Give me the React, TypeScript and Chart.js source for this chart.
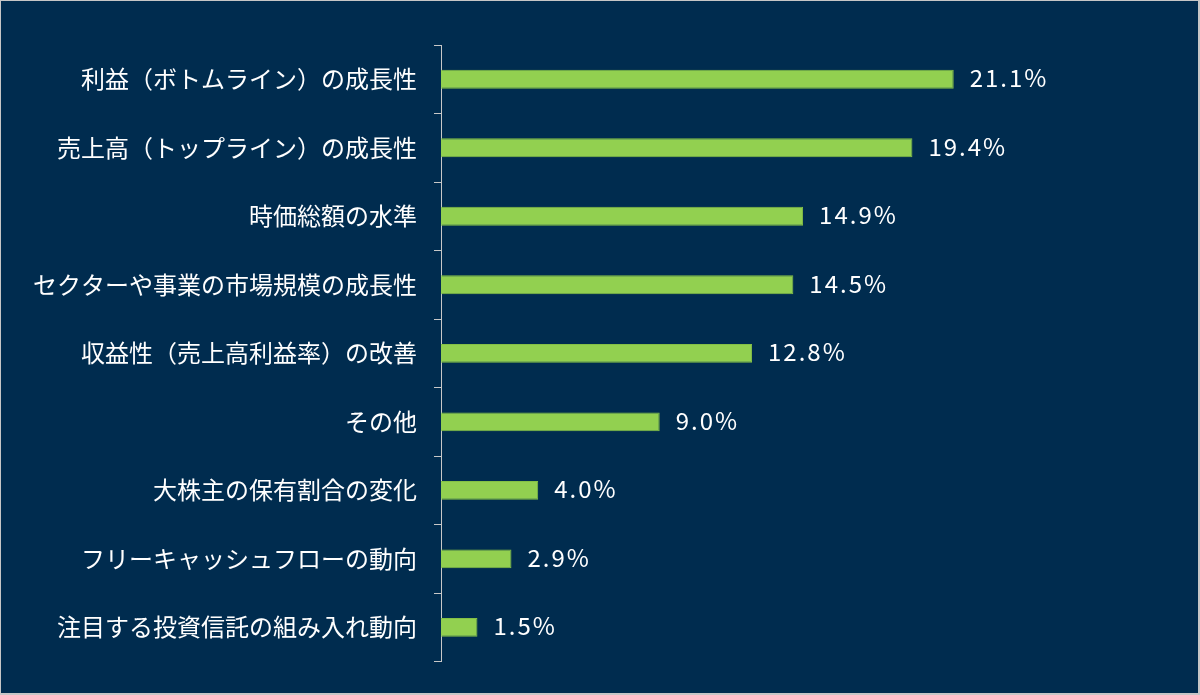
import React, { useEffect, useRef } from "react";
import { Chart, registerables } from "chart.js";

Chart.register(...registerables);

const categories = [
  "利益（ボトムライン）の成長性",
  "売上高（トップライン）の成長性",
  "時価総額の水準",
  "セクターや事業の市場規模の成長性",
  "収益性（売上高利益率）の改善",
  "その他",
  "大株主の保有割合の変化",
  "フリーキャッシュフローの動向",
  "注目する投資信託の組み入れ動向",
];
const values = [21.1, 19.4, 14.9, 14.5, 12.8, 9.0, 4.0, 2.9, 1.5];

const NAVY = "#002c4f";
const GREEN = "#92d050";
const AXIS = "#c8c8c8";

const valueLabels = {
  id: "valueLabels",
  afterDatasetsDraw(chart: any) {
    const ctx = chart.ctx;
    const meta = chart.getDatasetMeta(0);
    ctx.save();
    ctx.fillStyle = "#ffffff";
    ctx.font = '24px "Noto Sans CJK JP", "Noto Sans", sans-serif';
    try { (ctx as any).letterSpacing = "2px"; } catch (e) {}
    ctx.textAlign = "left";
    ctx.textBaseline = "middle";
    meta.data.forEach((bar: any, i: number) => {
      ctx.fillText(values[i].toFixed(1) + "%", bar.x + 16, bar.y - 1);
    });
    ctx.restore();
  },
};

export default function App() {
  const ref = useRef<HTMLCanvasElement>(null);
  useEffect(() => {
    if (!ref.current) return;
    const chart = new Chart(ref.current, {
      type: "bar",
      data: {
        labels: categories,
        datasets: [
          {
            data: values,
            backgroundColor: GREEN,
            borderColor: "#84c046",
            borderWidth: 1,
            categoryPercentage: 1,
            barPercentage: 0.275,
          },
        ],
      },
      options: {
        indexAxis: "y",
        animation: false,
        responsive: false,
        maintainAspectRatio: false,
        layout: { padding: { top: 44, bottom: 26, right: 28, left: 0 } },
        plugins: { legend: { display: false }, tooltip: { enabled: false } },
        scales: {
          x: { display: false, min: 0, max: 30 },
          y: {
            afterFit: (s: any) => { s.width = 440; },
            grid: {
              display: true,
              drawOnChartArea: false,
              drawTicks: true,
              tickLength: 7,
              color: AXIS,
              offset: true,
            },
            border: { display: true, color: AXIS, width: 1 },
            ticks: {
              color: "#ffffff",
              padding: 17,
              font: { family: '"Noto Sans CJK JP", "Noto Sans", sans-serif', size: 24 },
            },
          },
        },
      },
      plugins: [valueLabels],
    });
    return () => chart.destroy();
  }, []);
  return (
    <div style={{ position: "fixed", left: 0, top: 0, width: 1200, height: 695, background: "#c6c6c6" }}>
      <div style={{ position: "absolute", left: 1, top: 1, width: 1197, height: 692, background: NAVY }}>
        <canvas ref={ref} width={1197} height={692} style={{ display: "block" }} />
      </div>
    </div>
  );
}
